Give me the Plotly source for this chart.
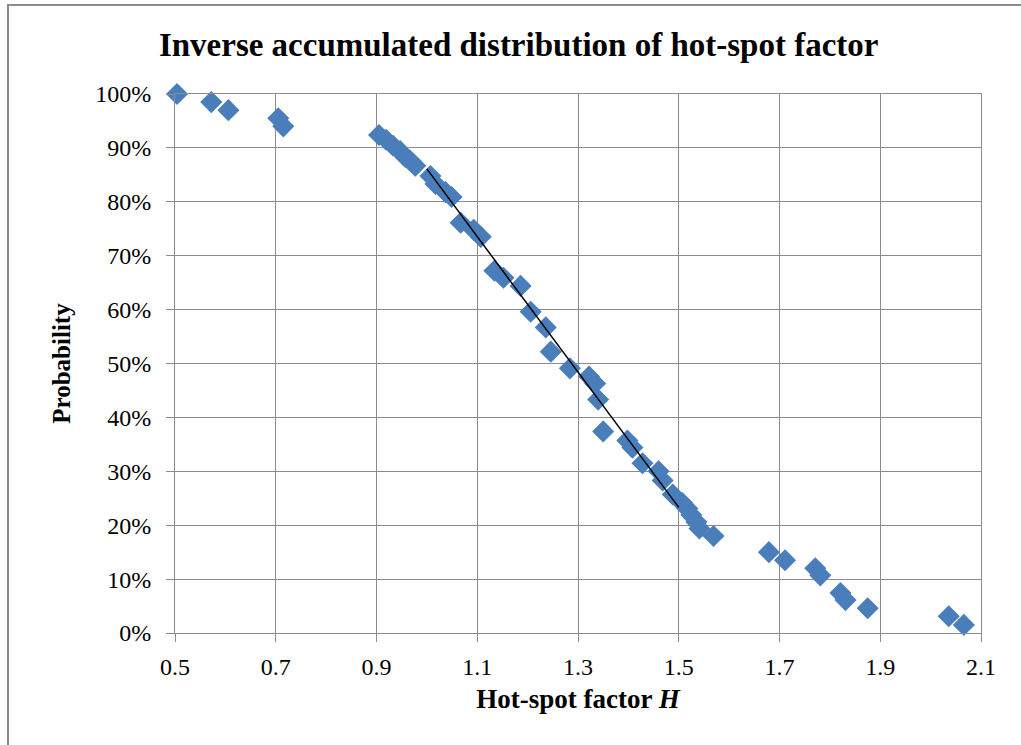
import plotly.graph_objects as go

# Hot-spot factor H (x) and inverse accumulated probability (y)
hot_spot = [0.504, 0.572, 0.606, 0.705, 0.715, 0.905, 0.919, 0.933, 0.947, 0.957,
            0.967, 0.977, 1.007, 1.017, 1.037, 1.049, 1.067, 1.093, 1.107, 1.134,
            1.152, 1.186, 1.206, 1.236, 1.246, 1.284, 1.322, 1.334, 1.340, 1.350,
            1.398, 1.408, 1.428, 1.460, 1.468, 1.488, 1.507, 1.517, 1.525, 1.535,
            1.541, 1.569, 1.679, 1.711, 1.771, 1.781, 1.821, 1.831, 1.875, 2.036,
            2.066]
probability = [1.000, 0.985, 0.970, 0.955, 0.940, 0.924, 0.915, 0.904, 0.894, 0.883,
               0.876, 0.867, 0.848, 0.833, 0.818, 0.809, 0.761, 0.748, 0.735, 0.672,
               0.659, 0.644, 0.596, 0.567, 0.522, 0.491, 0.476, 0.463, 0.433, 0.374,
               0.357, 0.344, 0.315, 0.300, 0.283, 0.257, 0.241, 0.231, 0.219, 0.206,
               0.194, 0.180, 0.150, 0.135, 0.120, 0.107, 0.074, 0.061, 0.046, 0.031,
               0.015]

# Linear trend line endpoints
trend_x = [1.0, 1.5]
trend_y = [0.861, 0.233]

x_ticks = [0.5, 0.7, 0.9, 1.1, 1.3, 1.5, 1.7, 1.9, 2.1]
x_tick_labels = ["0.5", "0.7", "0.9", "1.1", "1.3", "1.5", "1.7", "1.9", "2.1"]
y_ticks = [0.0, 0.1, 0.2, 0.3, 0.4, 0.5, 0.6, 0.7, 0.8, 0.9, 1.0]
y_tick_labels = ["0%", "10%", "20%", "30%", "40%", "50%", "60%", "70%", "80%", "90%", "100%"]

FONT = "Liberation Serif"
GRID = "#8c8c8c"

W, H = 1021, 745
L, R, T, B = 175, 40, 94, 112
PW, PH = W - L - R, H - T - B

fig = go.Figure()
fig.add_trace(go.Scatter(
    x=hot_spot, y=probability, mode="markers",
    marker=dict(symbol="diamond", size=17, color="#4A7EBB", line=dict(width=0)),
    cliponaxis=False, showlegend=False,
))
fig.add_trace(go.Scatter(
    x=trend_x, y=trend_y, mode="lines",
    line=dict(color="black", width=1.5), showlegend=False,
))

fig.update_layout(
    width=W, height=H,
    margin=dict(l=L, r=R, t=T, b=B),
    paper_bgcolor="white", plot_bgcolor="white",
    font=dict(family=FONT, color="black", size=24),
    title=dict(text="<b>Inverse accumulated distribution of hot-spot factor</b>",
               font=dict(family=FONT, size=33, color="black"),
               xref="container", x=0.508, xanchor="center",
               yref="container", y=1 - 44 / H, yanchor="middle"),
    shapes=[dict(type="rect", xref="paper", yref="paper",
                 x0=(8 - L) / PW, x1=(W + 10 - L) / PW,
                 y0=(T + PH - (H + 20)) / PH, y1=(T + PH - 5) / PH,
                 line=dict(color="#8c8c8c", width=2), layer="above")],
)

fig.update_xaxes(
    range=[0.5, 2.1], tickvals=x_ticks, ticktext=x_tick_labels,
    showgrid=True, gridcolor=GRID, gridwidth=1,
    showline=True, linecolor=GRID, linewidth=1, mirror=True,
    ticks="outside", ticklen=8, tickcolor=GRID,
    tickfont=dict(family=FONT, size=24),
    ticklabelstandoff=4,
    zeroline=False,
    title=dict(text="<b>Hot-spot factor <i>H</i></b>",
               font=dict(family=FONT, size=27), standoff=10),
)
fig.update_yaxes(
    range=[0, 1], tickvals=y_ticks, ticktext=y_tick_labels,
    showgrid=True, gridcolor=GRID, gridwidth=1,
    showline=True, linecolor=GRID, linewidth=1, mirror=True,
    ticks="outside", ticklen=8, tickcolor=GRID,
    tickfont=dict(family=FONT, size=24),
    ticklabelstandoff=10,
    zeroline=False,
    title=dict(text="<b>Probability</b>",
               font=dict(family=FONT, size=25), standoff=17),
)

fig.write_html("out.html", config={"displayModeBar": False},
               post_script="document.body.style.margin='0px';")
